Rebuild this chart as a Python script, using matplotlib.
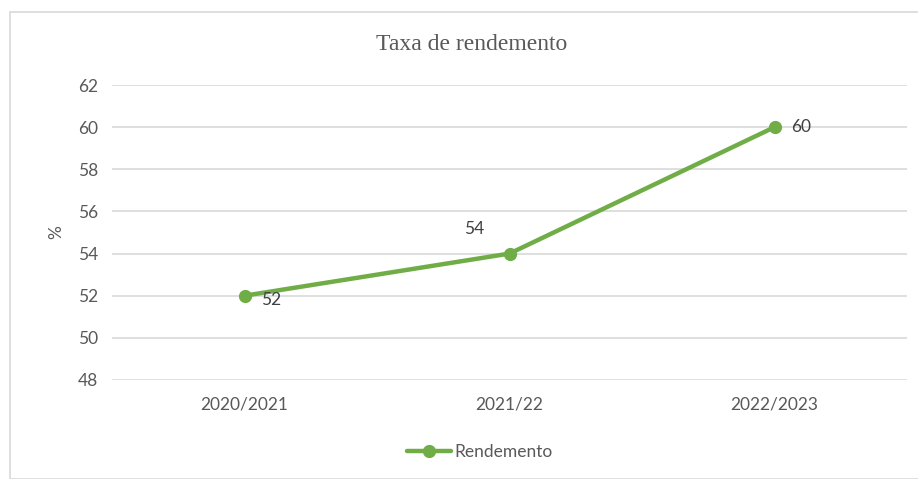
import matplotlib
matplotlib.use("Agg")
import matplotlib.pyplot as plt
from matplotlib.patches import Rectangle

categories = ["2020/2021", "2021/22", "2022/2023"]
values = [52, 54, 60]
series_name = "Rendemento"
yticks = [48, 50, 52, 54, 56, 58, 60, 62]

green = "#70AD47"
txt = "#595959"

fig = plt.figure(figsize=(9.18, 4.79), dpi=100)
fig.patches.append(Rectangle((10/918, 0), 1.0, 1 - 12/479, transform=fig.transFigure,
                             fill=False, edgecolor="#D9D9D9", linewidth=1.2))
ax = fig.add_axes([112/918, 1 - 380/479, 795/918, 295/479])

x = [i + 0.5 for i in range(len(categories))]
ax.plot(x, values, color=green, linewidth=3.2, marker="o", markersize=8.5,
        solid_capstyle="round", label=series_name)
ax.set_xlim(0, len(categories))
ax.set_ylim(48, 62)
ax.set_yticks(yticks)
ax.set_xticks(x)
ax.set_xticklabels(categories)
ax.grid(axis="y", color="#D9D9D9", linewidth=1.2)
ax.set_axisbelow(True)
for s in ax.spines.values():
    s.set_visible(False)
ax.tick_params(length=0, labelsize=12.5, labelcolor=txt, pad=10)
for lab in ax.get_xticklabels() + ax.get_yticklabels():
    lab.set_fontfamily("Lato")
ax.tick_params(axis="x", pad=12)

ax.set_ylabel("%", fontsize=12.5, color=txt, fontfamily="Lato", labelpad=10)

# data labels
offsets = [(12, -3, "left", "center"), (-18, 18, "right", "center"), (12, 0, "left", "center")]
for xi, v, (dx, dy, ha, va) in zip(x, values, offsets):
    ax.annotate(f"{v}", (xi, v), xytext=(dx, dy), textcoords="offset points",
                ha=ha, va=va, fontsize=12.5, color="#404040", fontfamily="Lato")

fig.text(472/918, 1 - 44/479, "Taxa de rendemento", ha="center", va="center",
         fontsize=17, color="#595959", fontfamily="Liberation Serif")

leg = fig.legend(loc="center", bbox_to_anchor=(480/918, 1 - 452/479), frameon=False,
                 prop={"family": "Lato", "size": 12.5}, handlelength=2.5, handletextpad=0.2)
for t in leg.get_texts():
    t.set_color(txt)

fig.savefig("out.png", dpi=100)
